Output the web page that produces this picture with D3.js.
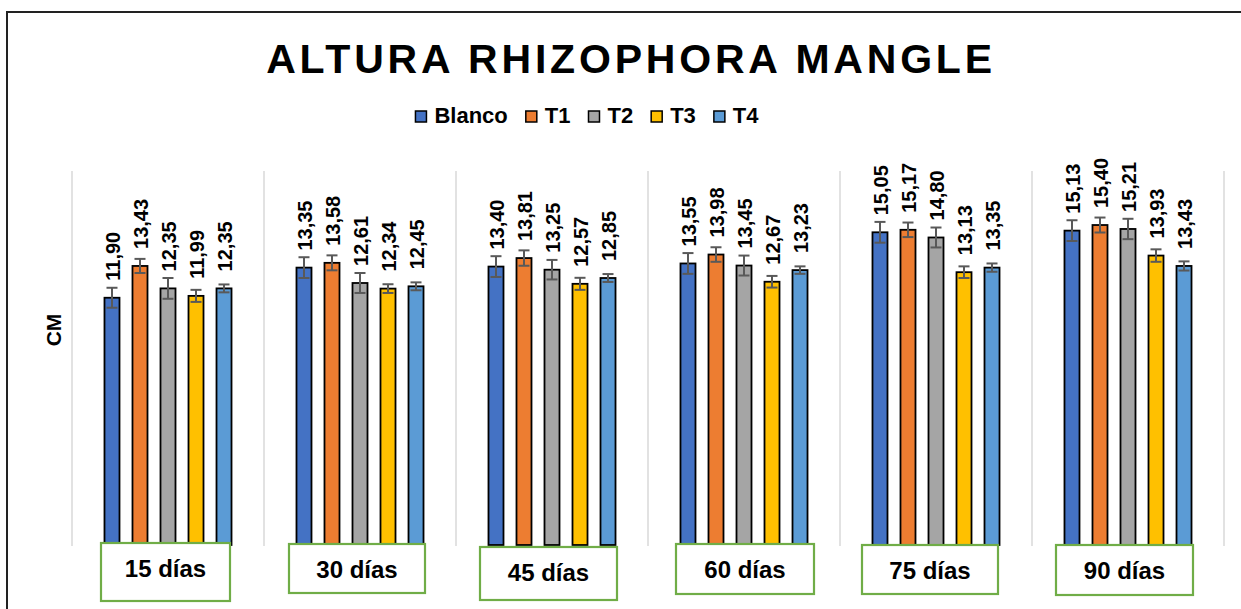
<!DOCTYPE html>
<html>
<head>
<meta charset="utf-8">
<script src="https://cdn.jsdelivr.net/npm/d3@7/dist/d3.min.js"></script>
<style>
  html, body { margin: 0; padding: 0; background: #fff; }
  svg { display: block; font-family: "Liberation Sans", Arial, sans-serif; }
</style>
</head>
<body>
<svg id="chart" width="1241" height="609"></svg>
<script>
// ---- Data ----
const categories = ["15 días", "30 días", "45 días", "60 días", "75 días", "90 días"];
const seriesNames = ["Blanco", "T1", "T2", "T3", "T4"];
const blanco = [11.90, 13.35, 13.40, 13.55, 15.05, 15.13];
const t1     = [13.43, 13.58, 13.81, 13.98, 15.17, 15.40];
const t2     = [12.35, 12.61, 13.25, 13.45, 14.80, 15.21];
const t3     = [11.99, 12.34, 12.57, 12.67, 13.13, 13.93];
const t4     = [12.35, 12.45, 12.85, 13.23, 13.35, 13.43];
const errBlanco = [0.48, 0.50, 0.50, 0.50, 0.50, 0.50];
const errT1     = [0.34, 0.36, 0.37, 0.35, 0.35, 0.36];
const errT2     = [0.50, 0.48, 0.47, 0.48, 0.48, 0.49];
const errT3     = [0.29, 0.21, 0.29, 0.28, 0.28, 0.30];
const errT4     = [0.19, 0.19, 0.19, 0.18, 0.20, 0.22];
const yDomain = [0, 18];
const titleText = "ALTURA RHIZOPHORA MANGLE";
const yAxisTitle = "CM";

// ---- Styles / layout ----
const colors = ["#4472C4", "#ED7D31", "#A5A5A5", "#FFC000", "#5B9BD5"];
const seriesValues = [blanco, t1, t2, t3, t4];
const seriesErrors = [errBlanco, errT1, errT2, errT3, errT4];
// hand-placed category text boxes (offset relative to band centre)
const boxLayout = [
  { dx: -67, w: 129, top: 543, h: 58 },
  { dx: -71, w: 136, top: 544, h: 49 },
  { dx: -72, w: 137, top: 547, h: 53 },
  { dx: -68, w: 138, top: 544, h: 50 },
  { dx: -74, w: 136, top: 545, h: 49 },
  { dx: -72, w: 137, top: 545, h: 50 }
];

const svg = d3.select("#chart");
const plot = { left: 72, right: 1224, top: 171, bottom: 545 };

// outer chart border
svg.append("rect")
  .attr("x", 7).attr("y", 12)
  .attr("width", 1260).attr("height", 640)
  .attr("fill", "#fff").attr("stroke", "#222").attr("stroke-width", 2);

const x0 = d3.scaleBand().domain(categories).range([plot.left, plot.right]).paddingInner(0).paddingOuter(0);
const x1 = d3.scaleBand().domain(seriesNames).range([0, x0.bandwidth()])
  .paddingInner(0.464).paddingOuter(1.16);
const y = d3.scaleLinear().domain(yDomain).range([plot.bottom, plot.top]);

// vertical category gridlines (band boundaries)
const boundaries = categories.map(c => x0(c)).concat([x0(categories[categories.length - 1]) + x0.bandwidth()]);
svg.append("g").selectAll("line").data(boundaries).join("line")
  .attr("x1", d => d).attr("x2", d => d)
  .attr("y1", plot.top).attr("y2", plot.bottom + 1)
  .attr("stroke", "#D9D9D9").attr("stroke-width", 1.5);

// title
svg.append("text")
  .attr("x", 631).attr("y", 73)
  .attr("text-anchor", "middle")
  .style("font-size", "41px").attr("font-weight", "bold")
  .attr("letter-spacing", "3.8px")
  .attr("fill", "#000")
  .text(titleText);

// legend
const legend = svg.append("g");
const legItems = legend.selectAll("g").data(seriesNames).join("g");
legItems.append("rect")
  .attr("width", 11).attr("height", 11)
  .attr("y", 111)
  .attr("fill", (d, i) => colors[i]).attr("stroke", "#000").attr("stroke-width", 1.5);
legItems.append("text")
  .attr("y", 123)
  .style("font-size", "22px").attr("font-weight", "bold")
  .text(d => d);
let cx = 0;
const positions = [];
legItems.each(function () {
  const tw = d3.select(this).select("text").node().getComputedTextLength();
  positions.push(cx);
  cx += 11 + 8 + tw + 18;
});
const legWidth = cx - 18;
const legStart = 587 - legWidth / 2;
legItems.each(function (d, i) {
  const g = d3.select(this);
  g.select("rect").attr("x", legStart + positions[i]);
  g.select("text").attr("x", legStart + positions[i] + 19);
});

// y axis title
svg.append("text")
  .attr("transform", "translate(61,330) rotate(-90)")
  .attr("text-anchor", "middle")
  .style("font-size", "21px").attr("font-weight", "bold")
  .text(yAxisTitle);

// bars
const groups = svg.append("g").selectAll("g").data(categories).join("g")
  .attr("transform", c => `translate(${x0(c)},0)`);

groups.each(function (c, ci) {
  const g = d3.select(this);
  const rows = seriesNames.map((s, si) => ({ s, si, v: seriesValues[si][ci], e: seriesErrors[si][ci] }));
  g.selectAll("rect.bar").data(rows).join("rect")
    .attr("class", "bar")
    .attr("x", d => x1(d.s))
    .attr("width", x1.bandwidth())
    .attr("y", d => y(d.v))
    .attr("height", d => y(0) - y(d.v))
    .attr("fill", d => colors[d.si])
    .attr("stroke", "#000").attr("stroke-width", 1.8);

  // error bars
  const eb = g.selectAll("g.err").data(rows).join("g").attr("class", "err")
    .attr("stroke", "#595959").attr("stroke-width", 2);
  eb.append("line")
    .attr("x1", d => x1(d.s) + x1.bandwidth() / 2).attr("x2", d => x1(d.s) + x1.bandwidth() / 2)
    .attr("y1", d => y(d.v + d.e)).attr("y2", d => y(d.v - d.e));
  eb.append("line")
    .attr("x1", d => x1(d.s) + x1.bandwidth() / 2 - 5.5).attr("x2", d => x1(d.s) + x1.bandwidth() / 2 + 5.5)
    .attr("y1", d => y(d.v + d.e)).attr("y2", d => y(d.v + d.e));
  eb.append("line")
    .attr("x1", d => x1(d.s) + x1.bandwidth() / 2 - 5.5).attr("x2", d => x1(d.s) + x1.bandwidth() / 2 + 5.5)
    .attr("y1", d => y(d.v - d.e)).attr("y2", d => y(d.v - d.e));

  // value labels
  g.selectAll("text.val").data(rows).join("text")
    .attr("class", "val")
    .attr("transform", d => `translate(${x1(d.s) + x1.bandwidth() / 2 + 1},${y(d.v) - 17}) rotate(-90)`)
    .attr("dy", "0.35em")
    .style("font-size", "20px").attr("font-weight", "bold")
    .attr("fill", "#000")
    .text(d => d.v.toFixed(2).replace(".", ","));
});

// category label boxes
const boxes = svg.append("g").selectAll("g").data(categories).join("g");
boxes.append("rect")
  .attr("x", (c, i) => x0(c) + x0.bandwidth() / 2 + boxLayout[i].dx)
  .attr("y", (c, i) => boxLayout[i].top)
  .attr("width", (c, i) => boxLayout[i].w)
  .attr("height", (c, i) => boxLayout[i].h)
  .attr("fill", "#fff").attr("stroke", "#70AD47").attr("stroke-width", 2.2);
boxes.append("text")
  .attr("x", (c, i) => x0(c) + x0.bandwidth() / 2 + boxLayout[i].dx + boxLayout[i].w / 2)
  .attr("y", (c, i) => boxLayout[i].top + 34)
  .attr("text-anchor", "middle")
  .style("font-size", "24px").attr("font-weight", "bold")
  .attr("fill", "#000")
  .text(c => c);
</script>
</body>
</html>
